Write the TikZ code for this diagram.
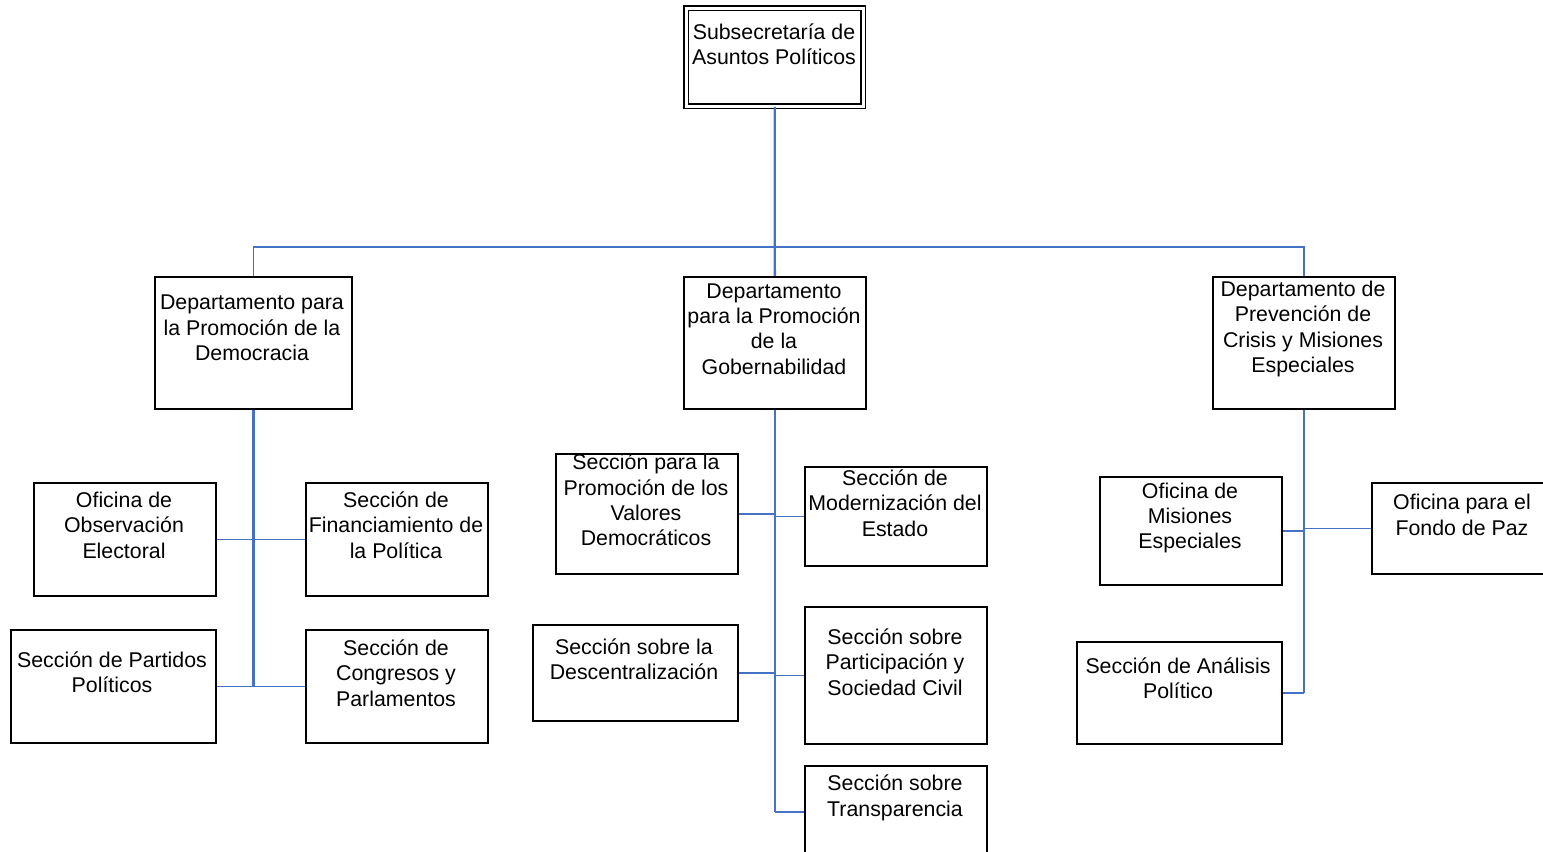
\documentclass[tikz,border=0pt]{standalone}
\usepackage{fontspec}
\setmainfont{Liberation Sans}
\definecolor{linkblue}{HTML}{4472C4}
\begin{document}
\begin{tikzpicture}[x=0.75pt,y=-0.75pt,
  box/.style={draw=black, line width=1.3pt, rectangle, inner sep=0pt, anchor=north west},
  wh/.style 2 args={minimum width=#1*0.75pt, minimum height=#2*0.75pt},
  lbl/.style={font=\fontsize{16}{19.1}\selectfont, align=center, inner sep=0pt},
  conn/.style={draw=linkblue, line width=1.3pt},
  trunk/.style={draw=linkblue, line width=1.7pt}]
\useasboundingbox (0,0) rectangle (1543,852);
% boxes
\node[box, wh={177}{98}, double, double distance=2.4pt, line width=1pt] (top) at (685.5,7.5) {};
\node[box, wh={197}{132}] (dept1) at (154,276) {};
\node[box, wh={182}{132}] (dept2) at (683,276) {};
\node[box, wh={182}{132}] (dept3) at (1212,276) {};
\node[box, wh={182}{113}] (obs) at (33,482) {};
\node[box, wh={182}{113}] (fin) at (305,482) {};
\node[box, wh={205}{113}] (partidos) at (10,629) {};
\node[box, wh={182}{113}] (congresos) at (305,629) {};
\node[box, wh={182}{120}] (valores) at (555,453) {};
\node[box, wh={182}{99}] (modern) at (804,466) {};
\node[box, wh={205}{96}] (descen) at (532,624) {};
\node[box, wh={182}{137}] (particip) at (804,606) {};
\node[box, wh={182}{92}] (transp) at (804,765) {};
\node[box, wh={182}{108}] (misiones) at (1099,476) {};
\node[box, wh={182}{91}] (fondo) at (1371,482) {};
\node[box, wh={205}{102}] (analisis) at (1076,641) {};
% labels
\node[lbl] (ttop) at (774,44) {Subsecretaría de\\Asuntos Políticos};
\node[lbl] (tdept1) at (252,328) {Departamento para\\la Promoción de la\\Democracia};
\node[lbl] (tdept2) at (774,329) {Departamento\\para la Promoción\\de la\\Gobernabilidad};
\node[lbl] (tdept3) at (1303,329) {Departamento de\\Prevención de\\Crisis y Misiones\\Especiales};
\node[lbl] (tobs) at (124,525) {Oficina de\\Observación\\Electoral};
\node[lbl] (tfin) at (396,525) {Sección de\\Financiamiento de\\la Política};
\node[lbl] (tpartidos) at (112,672) {Sección de Partidos\\Políticos};
\node[lbl] (tcongresos) at (396,673) {Sección de\\Congresos y\\Parlamentos};
\node[lbl] (tvalores) at (646,500) {Sección para la\\Promoción de los\\Valores\\Democráticos};
\node[lbl] (tmodern) at (895,503) {Sección de\\Modernización del\\Estado};
\node[lbl] (tdescen) at (634,659) {Sección sobre la\\Descentralización};
\node[lbl] (tparticip) at (895,662) {Sección sobre\\Participación y\\Sociedad Civil};
\node[lbl] (ttransp) at (895,798) {Sección sobre\\Transparencia};
\node[lbl] (tmisiones) at (1190,518) {Oficina de\\Misiones\\Especiales};
\node[lbl] (tfondo) at (1462,515) {Oficina para el\\Fondo de Paz};
\node[lbl] (tanalisis) at (1178,678) {Sección de Análisis\\Político};
% connectors
\coordinate (bus) at (774,247);
\draw[trunk] (top.south) -- (dept2.north);
\draw[conn] (dept1.north) |- (bus) -| (dept3.north);
% left column
\draw[trunk] (dept1.south) -- (dept1.south |- partidos.east);
\draw[conn] (obs.east) -- (fin.west);
\draw[conn] (partidos.east) -- (congresos.west);
% centre column
\draw[trunk] (dept2.south) -- (dept2.south |- transp.west);
\draw[conn] (valores.east) -- (valores.east -| dept2.south);
\draw[conn] (modern.west) -- (modern.west -| dept2.south);
\draw[conn] (descen.east) -- (descen.east -| dept2.south);
\draw[conn] (particip.west) -- (particip.west -| dept2.south);
\draw[conn] (transp.west) -- (transp.west -| dept2.south);
% right column
\draw[trunk] (dept3.south) -- (dept3.south |- analisis.east);
\draw[conn] (misiones.east) -- (misiones.east -| dept3.south);
\draw[conn] (fondo.west) -- (fondo.west -| dept3.south);
\draw[conn] (analisis.east) -- (analisis.east -| dept3.south);
\end{tikzpicture}
\end{document}
